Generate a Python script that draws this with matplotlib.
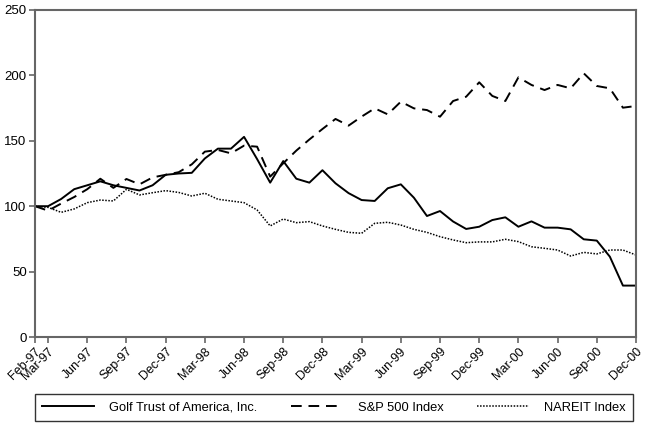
import matplotlib
matplotlib.use("Agg")
import matplotlib.pyplot as plt
import numpy as np
import pandas as pd

plt.rcParams['font.family'] = ['Liberation Sans', 'DejaVu Sans']

months = pd.date_range("1997-02-01", "2000-12-01", freq="MS").strftime("%b-%y").tolist()

golf_trust = [100, 100, 105.5, 113, 116, 119, 116, 114, 112, 116, 124, 125, 125.5, 136.5, 144, 144,
              153, 136, 118, 134.5, 121, 118, 127.5, 117.5, 110, 104.7, 104, 113.7, 116.7, 106.5, 92.5,
              96.3, 88.3, 82.6, 84.3, 89.4, 91.5, 84.3, 88.4, 83.6, 83.6, 82.3, 74.7, 73.7, 61.4, 39.3, 39.3]
sp500 = [100, 96.6, 102, 107, 113, 121, 114, 120.8, 116.7, 122, 124, 126, 132, 141.7, 143, 140.4,
         146.3, 145.5, 122.6, 132.8, 142.5, 151, 159, 166.7, 161.6, 168.5, 174.8, 170.2, 179.9, 174.8, 173.5,
         168.4, 180.4, 183.7, 194.7, 184.3, 180.4, 198.5, 192.7, 188.8, 192.7, 190.1, 201.6, 191.9, 190.1, 175.3, 176.6]
nareit = [100, 99.1, 95.3, 97.9, 102.7, 104.7, 104, 112.9, 108.6, 110.3, 111.9, 110.5, 107.8, 109.9, 105.3, 104,
          102.7, 97.1, 84.9, 90.2, 87.4, 88.2, 84.9, 82.3, 80, 79.3, 86.9, 87.7, 85.6, 82.3, 80,
          76.7, 74.2, 72.1, 72.7, 72.7, 74.7, 72.9, 69, 67.8, 66.5, 61.9, 64.7, 63.5, 66.5, 66.5, 62.7]

tick_labels = ["Feb-97", "Mar-97", "Jun-97", "Sep-97", "Dec-97", "Mar-98", "Jun-98", "Sep-98", "Dec-98",
               "Mar-99", "Jun-99", "Sep-99", "Dec-99", "Mar-00", "Jun-00", "Sep-00", "Dec-00"]
series_names = ["Golf Trust of America, Inc.", "S&P 500 Index", "NAREIT Index"]

x = np.arange(len(months))
tick_pos = [months.index(t) for t in tick_labels]

fig = plt.figure(figsize=(6.46, 4.32), dpi=100)
ax = fig.add_axes([0.0542, 0.2199, 0.9303, 0.757])

l1, = ax.plot(x, golf_trust, color='black', lw=1.4, ls='-')
l2, = ax.plot(x, sp500, color='black', lw=1.4, ls=(0, (5.5, 3.5)))
l3, = ax.plot(x, nareit, color='black', lw=1.1, ls=(0, (1, 1)))

ax.set_xlim(0, len(months) - 1)
ax.set_ylim(0, 250)
ax.set_yticks([0, 50, 100, 150, 200, 250])
ax.set_xticks(tick_pos)
ax.set_xticklabels(tick_labels, rotation=45, ha='right', rotation_mode='anchor', fontsize=9)
ax.tick_params(axis='y', labelsize=9.5, length=4, width=1.2, color='#666666', pad=2)
ax.tick_params(axis='x', length=4, width=1.2, color='#666666', pad=2)
for s in ax.spines.values():
    s.set_color('#666666')
    s.set_linewidth(1.5)

leg = fig.legend([l1, l2, l3], series_names, loc='center', ncol=3,
                 bbox_to_anchor=(0.0542, 0.023, 0.926, 0.067), mode='expand',
                 fontsize=9.3, frameon=True, fancybox=False, edgecolor='black',
                 handlelength=4.0, handletextpad=1.2, borderpad=0.55, borderaxespad=0)
leg.get_frame().set_linewidth(1.0)

fig.savefig("out.png", dpi=100)
